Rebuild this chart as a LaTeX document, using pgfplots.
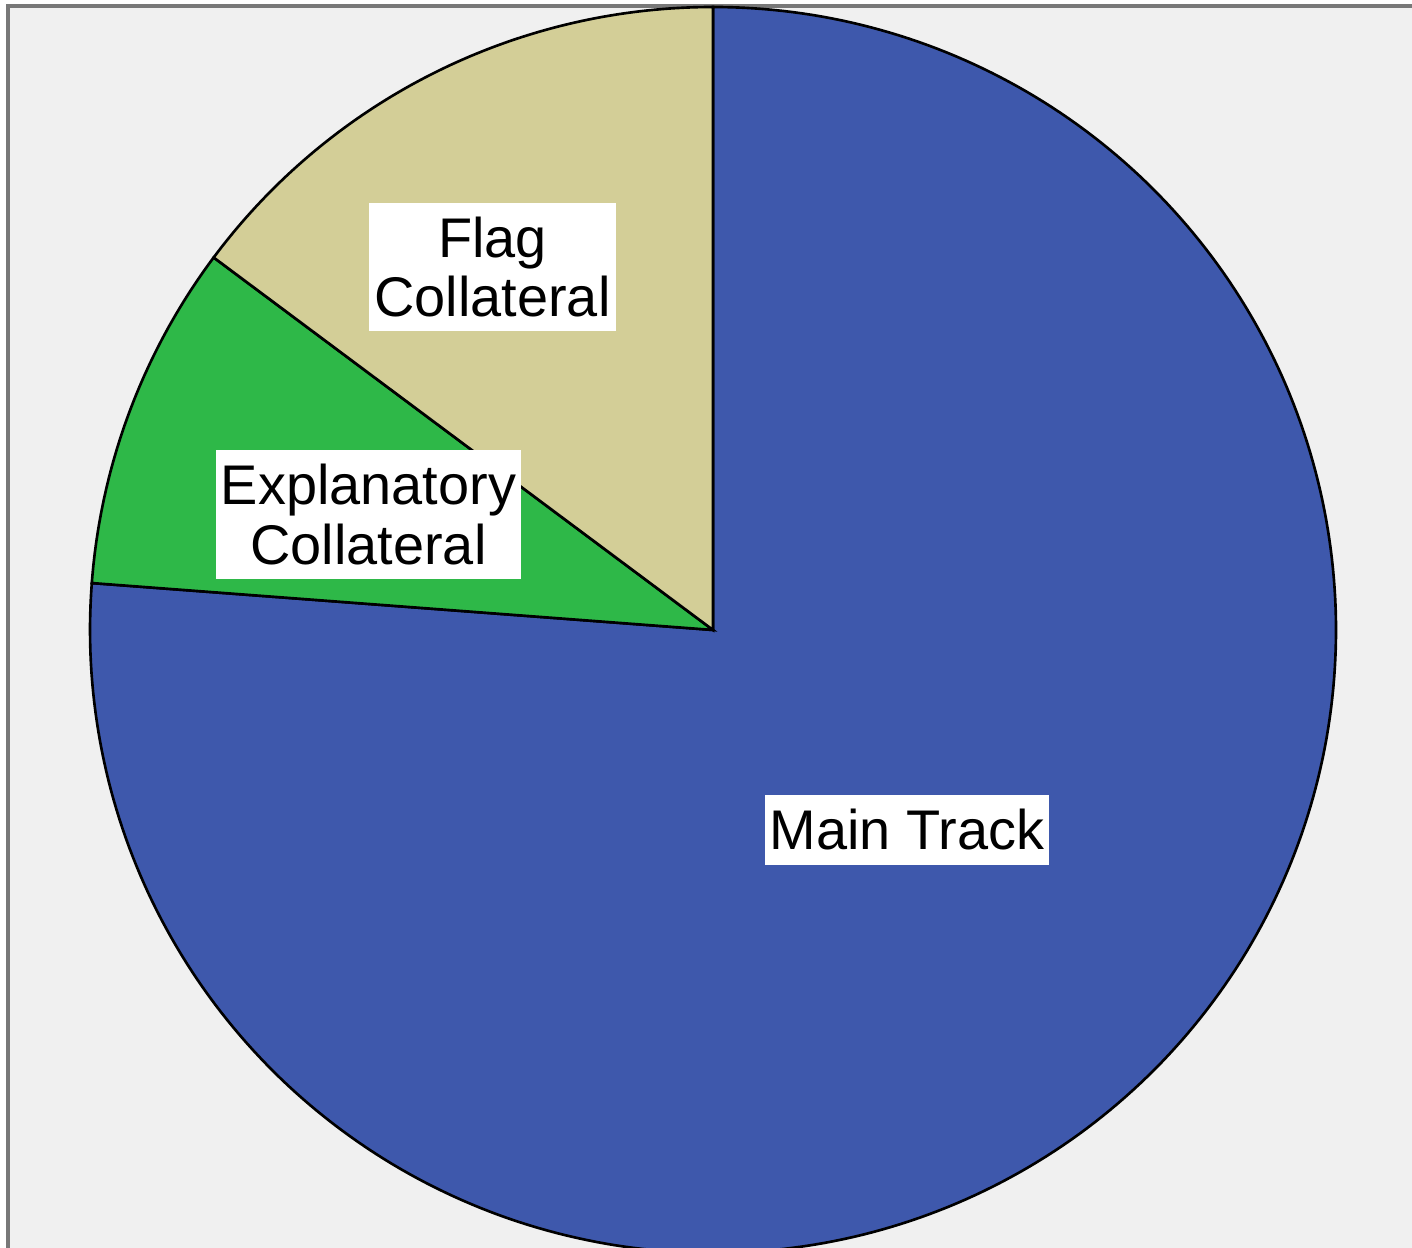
\documentclass[border=0pt]{standalone}
\usepackage{pgfplots}
\usepackage{pgfplotstable}
\pgfplotsset{compat=1.18}
\usepackage{fontspec}
\setmainfont{Liberation Sans}
\definecolor{mainblue}{RGB}{62,88,172}
\definecolor{explgreen}{RGB}{46,184,72}
\definecolor{flagtan}{RGB}{211,206,151}
\definecolor{bggray}{RGB}{240,240,240}
\definecolor{framegray}{RGB}{120,120,120}

\pgfplotstableread{
slice value
Main 76.2
Expl 9.0
Flag 14.8
}\piedata

\begin{document}%
\begin{tikzpicture}
\pgfplotstablegetelem{0}{value}\of\piedata \let\vA\pgfplotsretval
\pgfplotstablegetelem{1}{value}\of\piedata \let\vB\pgfplotsretval
\pgfplotstablegetelem{2}{value}\of\piedata \let\vC\pgfplotsretval
\pgfmathsetmacro\aA{90-3.6*\vA}
\pgfmathsetmacro\aB{\aA-3.6*\vB}
\pgfmathsetmacro\aC{\aB-3.6*\vC}
\begin{axis}[
  scale only axis, width=14.12cm, height=12.48cm,
  xmin=0, xmax=1412, ymin=0, ymax=1248,
  hide axis, clip=true,
]
\fill[bggray] (axis cs:8,0) rectangle (axis cs:1412,1242);
\draw[framegray, line width=0.9pt] (axis cs:8,0) -- (axis cs:8,1242) -- (axis cs:1412,1242);
\path (axis cs:0,0) rectangle (axis cs:1412,1248);

\addplot[fill=mainblue, draw=black, line width=0.75pt, domain=\aA:90, samples=300, variable=\t]
  ({713+623*cos(\t)},{618+623*sin(\t)}) -- (axis cs:713,618) -- cycle;
\addplot[fill=explgreen, draw=black, line width=0.75pt, domain=\aB:\aA, samples=60, variable=\t]
  ({713+623*cos(\t)},{618+623*sin(\t)}) -- (axis cs:713,618) -- cycle;
\addplot[fill=flagtan, draw=black, line width=0.75pt, domain=\aC:\aB, samples=80, variable=\t]
  ({713+623*cos(\t)},{618+623*sin(\t)}) -- (axis cs:713,618) -- cycle;

\tikzset{lbl/.style={fill=white, inner xsep=1.5pt, inner ysep=4pt, align=center,
  font=\fontsize{15.9pt}{17pt}\selectfont}}
\node[lbl] at (axis cs:492.5,981) {Flag\\Collateral};
\node[lbl] at (axis cs:368.5,733.5) {Explanatory\\Collateral};
\node[lbl] at (axis cs:907,418) {Main Track};
\end{axis}
\end{tikzpicture}%
\end{document}
